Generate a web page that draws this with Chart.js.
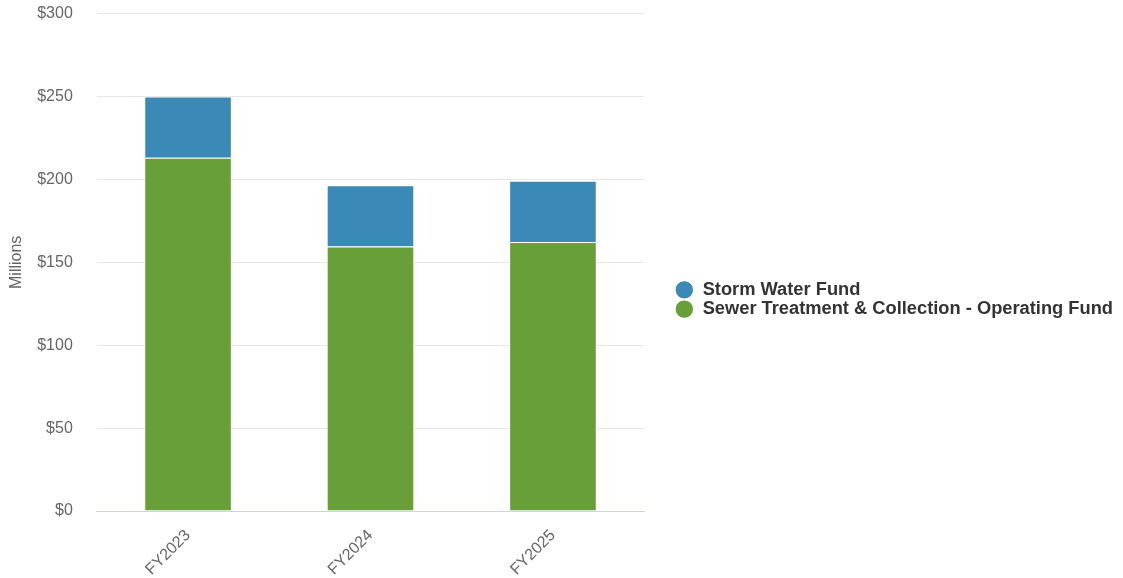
<!DOCTYPE html>
<html>
<head>
<meta charset="utf-8">
<script src="https://cdn.jsdelivr.net/npm/chart.js@4/dist/chart.umd.min.js"></script>
<style>
  html, body { margin: 0; padding: 0; background: #fff; }
  #wrap { width: 1123px; height: 578px; position: relative; }
</style>
</head>
<body>
<div id="wrap"><canvas id="fundChart"></canvas></div>
<script>
// values in millions
var years = ['FY2023', 'FY2024', 'FY2025'];
var sewerFund = [213, 159.5, 162.2];
var stormFund = [37, 36.9, 37];
var yTicks = [0, 50, 100, 150, 200, 250, 300];

var fontFam = '"Liberation Sans", Arial, Helvetica, sans-serif';

var ctx = document.getElementById('fundChart').getContext('2d');
var chart = new Chart(ctx, {
    type: 'bar',
    data: {
        labels: years,
        datasets: [{
                label: 'Sewer Treatment & Collection - Operating Fund',
                backgroundColor: 'rgb(104, 159, 56)',
                borderColor: '#ffffff',
                borderWidth: 1,
                data: sewerFund
            },
            {
                label: 'Storm Water Fund',
                backgroundColor: 'rgb(59, 137, 182)',
                borderColor: '#ffffff',
                borderWidth: 1,
                data: stormFund
            }
        ]
    },
    options: {
        responsive: true,
        maintainAspectRatio: false,
        animation: false,
        layout: { padding: { top: 1, left: 0, right: 0, bottom: 2 } },
        datasets: {
            bar: { categoryPercentage: 1, barPercentage: 0.48 }
        },
        plugins: {
            tooltip: { enabled: false },
            legend: {
                position: 'right',
                reverse: true,
                maxWidth: 520,
                // blank title only nudges the items down a little
                title: { display: true, text: ' ', padding: 5, font: { size: 10 } },
                labels: {
                    usePointStyle: true,
                    pointStyle: 'circle',
                    boxHeight: 13,
                    padding: 1,
                    color: '#333333',
                    font: { family: fontFam, size: 18.3, weight: 'bold' }
                }
            }
        },
        scales: {
            x: {
                stacked: true,
                grid: { display: false, drawTicks: false },
                border: { color: '#ccd6eb', width: 1 },
                ticks: {
                    color: '#666666',
                    font: { family: fontFam, size: 16 },
                    minRotation: 45,
                    maxRotation: 45,
                    padding: 15
                },
                afterFit: function(s) { s.height = 65; }
            },
            y: {
                stacked: true,
                min: 0,
                max: 300,
                afterBuildTicks: function(axis) {
                    axis.ticks = yTicks.map(function(v) { return { value: v }; });
                },
                grid: {
                    color: function(c) { return c.tick && c.tick.value === 0 ? '#ccd6eb' : '#e6e6e6'; },
                    tickColor: 'rgba(0,0,0,0)',
                    tickLength: 20
                },
                border: { display: false },
                ticks: {
                    color: '#666666',
                    font: { family: fontFam, size: 16 },
                    padding: 4,
                    callback: function(v) { return '$' + v; }
                },
                title: {
                    display: true,
                    text: 'Millions',
                    color: '#666666',
                    font: { family: fontFam, size: 16 },
                    padding: { top: 7, bottom: 7 }
                }
            },
            spacer: {
                type: 'linear',
                position: 'right',
                display: true,
                grid: { display: false, drawTicks: false },
                border: { display: false },
                ticks: { display: false },
                afterFit: function(s) { s.width = 30; }
            }
        }
    }
});
</script>
</body>
</html>
